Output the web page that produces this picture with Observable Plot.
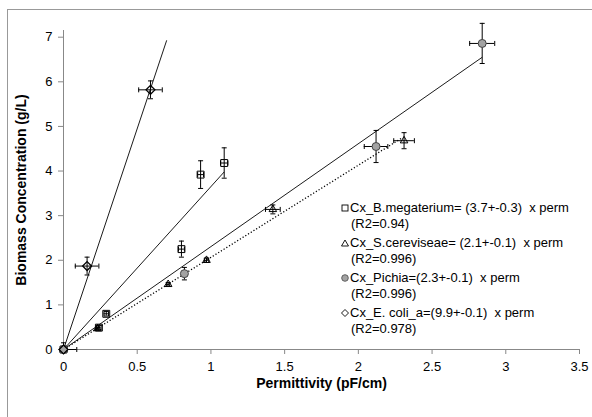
<!DOCTYPE html>
<html>
<head>
<meta charset="utf-8">
<script src="https://cdn.jsdelivr.net/npm/d3@7"></script>
<script src="https://cdn.jsdelivr.net/npm/@observablehq/plot@0.6"></script>
<style>
  html, body { margin: 0; padding: 0; background: #fff; }
  #wrap { position: relative; width: 592px; height: 417px; overflow: hidden; font-family: "Liberation Sans", Arial, sans-serif; }
  #chart { position: absolute; left: 0; top: 0; }
  #frame { position: absolute; left: 7px; top: 9px; width: 620px; height: 440px; border: 1px solid #999; box-sizing: border-box; pointer-events: none; z-index: 5; }
  #legend { position: absolute; left: 0; top: 0; font-size: 13px; line-height: 16px; color: #000; z-index: 4; }
  .entry { position: absolute; left: 341px; white-space: pre; }
  .entry svg { position: absolute; left: 0; top: 4px; }
  .entry .t1 { position: absolute; left: 9px; top: 0; }
  .entry .t2 { position: absolute; left: 10px; top: 16px; }
  svg g[aria-label="x-axis tick"] path, svg g[aria-label="y-axis tick"] path { stroke: #888; }
</style>
</head>
<body>
<div id="wrap">
  <div id="chart"></div>
  <div id="legend"></div>
  <div id="frame"></div>
</div>
<script>
// ---- data ----
const xTicks = [0, 0.5, 1, 1.5, 2, 2.5, 3, 3.5];
const yTicks = [0, 1, 2, 3, 4, 5, 6, 7];

const bmegX    = [0, 0.24, 0.29, 0.80, 0.93, 1.09];
const bmegY    = [0, 0.49, 0.80, 2.25, 3.92, 4.18];
const bmegXErr = [0, 0.015, 0.015, 0.02, 0.02, 0.025];
const bmegYErr = [0, 0.05, 0.05, 0.18, 0.31, 0.34];

const scerX    = [0, 0.23, 0.71, 0.97, 1.42, 2.31];
const scerY    = [0, 0.47, 1.46, 2.00, 3.14, 4.68];
const scerXErr = [0, 0.01, 0.01, 0.015, 0.05, 0.07];
const scerYErr = [0, 0.03, 0.04, 0.05, 0.10, 0.18];

const pichX    = [0, 0.82, 2.12, 2.84];
const pichY    = [0, 1.70, 4.55, 6.86];
const pichXErr = [0, 0.015, 0.08, 0.085];
const pichYErr = [0, 0.14, 0.36, 0.45];

const ecoliX    = [0, 0.16, 0.59];
const ecoliY    = [0, 1.87, 5.82];
const ecoliXErr = [0.09, 0.08, 0.08];
const ecoliYErr = [0.15, 0.20, 0.20];

// fitted lines through the origin (end points)
const fitNames = ["B.megaterium", "S.cereviseae", "Pichia", "E. coli"];
const fitXEnd  = [1.09, 2.29, 2.84, 0.70];
const fitYEnd  = [3.98, 4.73, 6.55, 6.93];
const fitDash  = [null, "1.2,2", null, null];

const legendLabels = [
  "Cx_B.megaterium= (3.7+-0.3)  x perm",
  "Cx_S.cereviseae= (2.1+-0.1)  x perm",
  "Cx_Pichia=(2.3+-0.1)  x perm",
  "Cx_E. coli_a=(9.9+-0.1)  x perm"
];
const legendR2 = ["(R2=0.94)", "(R2=0.996)", "(R2=0.996)", "(R2=0.978)"];
const xTitle = "Permittivity (pF/cm)";
const yTitle = "Biomass Concentration (g/L)";

// ---- build tables ----
function rows(name, xs, ys, xe, ye) {
  return xs.map((x, i) => ({name, x, y: ys[i], xe: xe[i], ye: ye[i]}));
}
const bmeg = rows("bmeg", bmegX, bmegY, bmegXErr, bmegYErr);
const scer = rows("scer", scerX, scerY, scerXErr, scerYErr);
const pich = rows("pich", pichX, pichY, pichXErr, pichYErr);
const ecoli = rows("ecoli", ecoliX, ecoliY, ecoliXErr, ecoliYErr);
const all = [...bmeg, ...scer, ...pich, ...ecoli];
const fits = fitNames.map((n, i) => ({name: n, x2: fitXEnd[i], y2: fitYEnd[i], dash: fitDash[i]}));

const hcap = {draw(ctx, size) { const w = Math.sqrt(size / Math.PI); ctx.moveTo(-w, 0); ctx.lineTo(w, 0); }};
const vcap = {draw(ctx, size) { const w = Math.sqrt(size / Math.PI); ctx.moveTo(0, -w); ctx.lineTo(0, w); }};

const yb = all.filter(d => d.ye > 0);
const xb = all.filter(d => d.xe > 0);

const chart = Plot.plot({
  width: 592, height: 417,
  marginLeft: 63, marginRight: 13, marginTop: 30, marginBottom: 68,
  x: {domain: [0, 3.5]},
  y: {domain: [0, 7.15]},
  style: {fontFamily: "'Liberation Sans', Arial, sans-serif", fontSize: "13px", color: "#000", background: "#fff"},
  marks: [
    Plot.axisX({ticks: xTicks, tickSize: 5, tickPadding: 7, tickFormat: d => String(d), label: null}),
    Plot.axisY({ticks: yTicks, tickSize: 5, tickPadding: 6, tickFormat: d => String(d), label: null}),
    Plot.ruleY([0], {stroke: "#888"}),
    Plot.ruleX([0], {stroke: "#888"}),
    // fitted lines
    Plot.link(fits.filter(d => !d.dash), {x1: () => 0, y1: () => 0, x2: "x2", y2: "y2", stroke: "#000", strokeWidth: 0.9}),
    Plot.link(fits.filter(d => d.dash), {x1: () => 0, y1: () => 0, x2: "x2", y2: "y2", stroke: "#000", strokeWidth: 1.3, strokeDasharray: "1.2,2"}),
    // error bars
    Plot.ruleX(yb, {x: "x", y1: d => Math.max(0, d.y - d.ye), y2: d => d.y + d.ye, stroke: "#000", strokeWidth: 1}),
    Plot.dot(yb, {x: "x", y: d => d.y + d.ye, symbol: hcap, r: 2.5, stroke: "#000", strokeWidth: 1}),
    Plot.dot(yb.filter(d => d.y - d.ye > 0), {x: "x", y: d => d.y - d.ye, symbol: hcap, r: 2.5, stroke: "#000", strokeWidth: 1}),
    Plot.ruleY(xb, {y: "y", x1: d => Math.max(0, d.x - d.xe), x2: d => d.x + d.xe, stroke: "#000", strokeWidth: 1}),
    Plot.dot(xb, {x: d => d.x + d.xe, y: "y", symbol: vcap, r: 2.5, stroke: "#000", strokeWidth: 1}),
    Plot.dot(xb.filter(d => d.x - d.xe > 0), {x: d => d.x - d.xe, y: "y", symbol: vcap, r: 2.5, stroke: "#000", strokeWidth: 1}),
    // markers
    Plot.dot(bmeg, {x: "x", y: "y", symbol: "square", r: 3.9, stroke: "#000", fill: "none", strokeWidth: 1}),
    Plot.dot(scer, {x: "x", y: "y", symbol: "triangle2", r: 3.6, stroke: "#000", fill: "none", strokeWidth: 1}),
    Plot.dot(pich, {x: "x", y: "y", symbol: "circle", r: 4, stroke: "#444", fill: "#a3a3a3", strokeWidth: 1}),
    Plot.dot(ecoli, {x: "x", y: "y", symbol: "diamond2", r: 4, stroke: "#000", fill: "none", strokeWidth: 1.3}),
    // titles
    Plot.text([xTitle], {frameAnchor: "bottom", textAnchor: "middle", dy: 38, fontWeight: "bold", fontSize: 14, fill: "#000"}),
    Plot.text([yTitle], {frameAnchor: "left", textAnchor: "middle", dx: -42, rotate: -90, fontWeight: "bold", fontSize: 14, fill: "#000"})
  ]
});
document.getElementById("chart").appendChild(chart);

// ---- legend ----
const markers = [
  '<svg width="8" height="8"><rect x="1" y="1" width="6" height="6" fill="none" stroke="#000" stroke-width="0.9"/></svg>',
  '<svg width="8" height="8"><path d="M4,1 L7.5,7 L0.5,7 Z" fill="none" stroke="#000" stroke-width="0.9"/></svg>',
  '<svg width="8" height="8"><circle cx="4" cy="4" r="3.3" fill="#a3a3a3" stroke="#555" stroke-width="0.9"/></svg>',
  '<svg width="8" height="8"><path d="M4,0.5 L7.5,4 L4,7.5 L0.5,4 Z" fill="none" stroke="#000" stroke-width="0.9"/></svg>'
];
const lg = document.getElementById("legend");
legendLabels.forEach((lab, i) => {
  const e = document.createElement("div");
  e.className = "entry";
  e.style.top = (200 + i * 35) + "px";
  e.innerHTML = markers[i] + '<span class="t1"></span><span class="t2"></span>';
  e.querySelector(".t1").textContent = lab;
  e.querySelector(".t2").textContent = legendR2[i];
  lg.appendChild(e);
});
</script>
</body>
</html>
